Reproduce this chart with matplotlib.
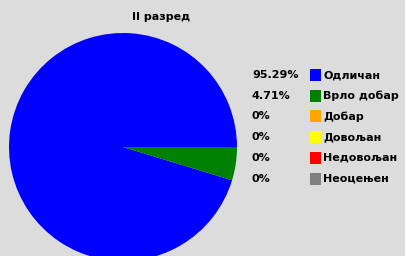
import matplotlib
matplotlib.use("Agg")
import matplotlib.pyplot as plt
from matplotlib.patches import Rectangle

title = "II разред"
categories = ["Одличан", "Врло добар", "Добар", "Довољан", "Недовољан", "Неоцењен"]
values = [95.29, 4.71, 0, 0, 0, 0]
pct_labels = ["95.29%", "4.71%", "0%", "0%", "0%", "0%"]
colors = ["#0000ff", "#008000", "#ffa500", "#ffff00", "#ff0000", "#808080"]

W, H = 406, 256
bg = "#dcdcdc"
fig = plt.figure(figsize=(W / 100, H / 100), dpi=100)
fig.patch.set_facecolor(bg)

ax = fig.add_axes([0, 0, 1, 1])
ax.set_facecolor(bg)
ax.pie(values, colors=colors, startangle=0, counterclock=True,
       center=(123, H - 147), radius=114,
       wedgeprops=dict(linewidth=0, edgecolor="none"))
ax.set_aspect("auto")
ax.set_xlim(0, W)
ax.set_ylim(0, H)
ax.axis("off")

ov = fig.add_axes([0, 0, 1, 1])
ov.set_xlim(0, W)
ov.set_ylim(H, 0)
ov.axis("off")
ov.patch.set_alpha(0)

font = dict(family=["DejaVu Sans"], fontweight="bold", fontsize=8)
ov.text(161, 17, title, ha="center", va="center", **font)

y0, dy = 75, 20.7
for i, (lab, pct, c) in enumerate(zip(categories, pct_labels, colors)):
    y = y0 + i * dy
    ov.text(252, y, pct, ha="left", va="center", **font)
    ov.add_patch(Rectangle((310.5, y - 6), 11, 12, facecolor=c, edgecolor="none"))
    ov.text(323.5, y, lab, ha="left", va="center", **font)

fig.savefig("out.png", dpi=100, facecolor=bg)
